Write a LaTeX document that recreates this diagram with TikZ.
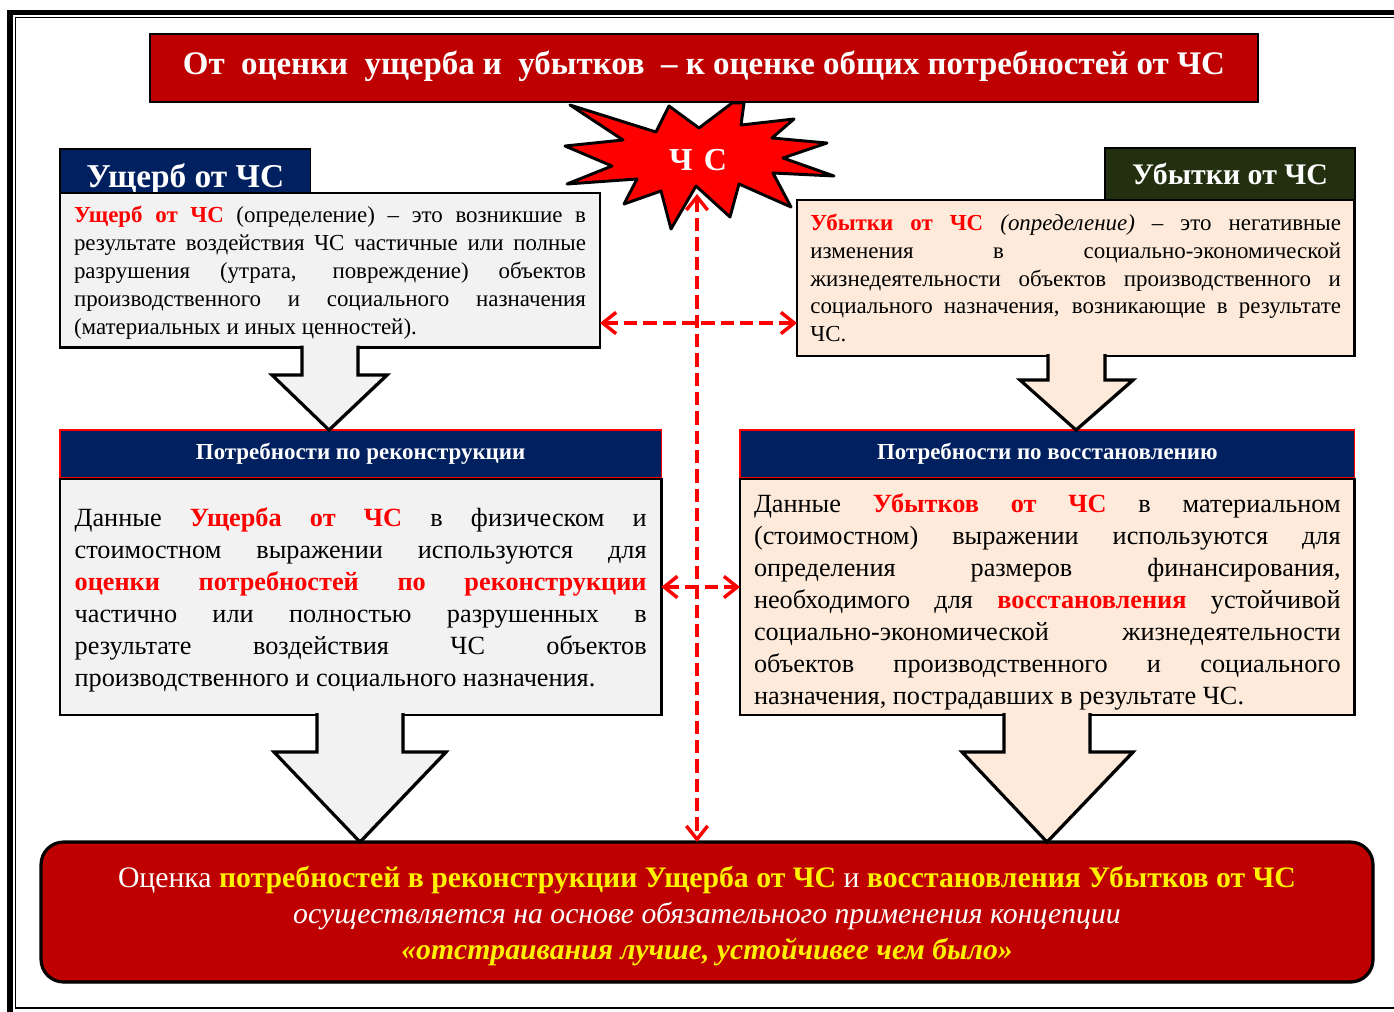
\documentclass[tikz,border=0pt]{standalone}
\usepackage{fontspec}
\setmainfont{Liberation Serif}
\usepackage{xcolor}
\usetikzlibrary{arrows.meta,shadows}

\definecolor{titlered}{HTML}{BE0000}
\definecolor{navyhead}{HTML}{002060}
\definecolor{greenhead}{HTML}{223010}
\definecolor{greybox}{HTML}{F2F2F2}
\definecolor{beigebox}{HTML}{FDEADA}
\definecolor{starred}{HTML}{FF0000}

\newcommand{\redb}[1]{\textcolor{red}{\textbf{#1}}}
\newcommand{\yelb}[1]{\textcolor{yellow}{\textbf{#1}}}

\begin{document}
\begin{tikzpicture}[
    x=0.75pt, y=-0.75pt,
    softshadow/.style={drop shadow={shadow xshift=1pt, shadow yshift=-1pt, opacity=0.35, fill=black}},
    headbox/.style={rectangle, draw=black, line width=0.8pt, anchor=north west, outer sep=0pt, inner sep=0pt, align=center, text=white},
    sectionhead/.style={rectangle, draw=red, fill=navyhead, line width=1pt, anchor=north west, outer sep=0pt, inner sep=0pt,
        minimum height=36pt, text=white, font=\fontsize{17.2}{20}\selectfont\bfseries},
    textbox/.style={rectangle, draw=black, line width=2.1pt, anchor=north west, outer sep=0pt, inner sep=0pt, align=justify, softshadow},
    blockarrow/.style={draw=black, line width=2.4pt, miter limit=10, softshadow},
    dashlink/.style={{Straight Barb[length=10pt,width=16pt,line width=2.6pt]}-{Straight Barb[length=10pt,width=16pt,line width=2.6pt]},
        red, line width=2.6pt, dash pattern=on 10pt off 4.5pt}
]

\useasboundingbox (0,0) rectangle (1394,1011);

% Double frame, running off the page on the right and at the bottom
\begin{scope}
\clip (0,0) rectangle (1394,1011);
\fill[white] (0,0) rectangle (1394,1011);
\draw[line width=4.2pt] (10,12.5) rectangle (1420,1030);
\draw[line width=0.9pt] (15.5,17.5) rectangle (1410,1008);
\end{scope}

% Star behind the title
\draw[fill=starred, line width=2.2pt, line join=round]
    (570,105) -- (656,132) -- (669,106) -- (699,128) -- (732,103) -- (744,103) -- (741,125)
    -- (794,119) -- (772,138) -- (827,143) -- (783,158) -- (834,176) -- (773,173) -- (791,207)
    -- (739,184) -- (730,217) -- (696,186) -- (671,229) -- (661,191) -- (624,204) -- (637,179)
    -- (567,184) -- (612,166) -- (565,146) -- (623,140) -- cycle;
\node (chslabel) [text=white, font=\fontsize{24}{28}\selectfont\bfseries, inner sep=0pt] at (698,160) {Ч\hspace{0.35em}С};
\coordinate (chstip) at (697,194);

% Title
\node (title) [headbox, fill=titlered, minimum width=831pt, minimum height=51pt, font=\fontsize{24.7}{30}\selectfont\bfseries] at (150,34)
    {\raisebox{-4.5pt}[0pt][0pt]{От\ \ оценки\ \ ущерба и\ \ убытков\ \ -- к оценке общих потребностей от ЧС}};

% Heads of the two definitions
\node (damagehead) [headbox, fill=navyhead, minimum width=188pt, minimum height=33pt, font=\fontsize{25}{30}\selectfont\bfseries] at (60,149)
    {\raisebox{-12.5pt}[0pt][0pt]{Ущерб от ЧС}};
\node (losshead) [headbox, fill=greenhead, minimum width=187.5pt, minimum height=39pt, font=\fontsize{22.4}{26}\selectfont\bfseries] at (1105,148)
    {Убытки от ЧС};

% Definitions
\node (damagedef) [textbox, fill=greybox, minimum width=405pt, minimum height=116pt, text width=384pt,
    font=\fontsize{17.2}{20.9}\selectfont] at (60,193)
    {\rule{0pt}{16pt}\redb{Ущерб от ЧС} (определение) -- это возникшие в\linebreak
     результате воздействия ЧС частичные или полные\linebreak
     разрушения (утрата, повреждение) объектов\linebreak
     производственного и социального назначения\linebreak
     (материальных и иных ценностей).};
\node (lossdef) [textbox, fill=beigebox, minimum width=418pt, minimum height=117pt, text width=398pt,
    font=\fontsize{17.2}{20.9}\selectfont] at (797,200)
    {\redb{Убытки от ЧС} \textit{(определение)} -- это негативные\linebreak
     изменения в социально-экономической\linebreak
     жизнедеятельности объектов производственного и\linebreak
     социального назначения, возникающие в результате\linebreak
     ЧС.};

% Needs
\node (rebuildhead) [sectionhead, minimum width=451pt] at (60,430) {\raisebox{1.5pt}{Потребности по реконструкции}};
\node (recoverhead) [sectionhead, minimum width=461pt] at (740,430) {\raisebox{1.5pt}{Потребности по восстановлению}};

\node (rebuildbox) [textbox, fill=greybox, minimum width=451pt, minimum height=177pt, text width=429pt,
    font=\fontsize{19.7}{24}\selectfont] at (60,479)
    {\rule{0pt}{19pt}Данные \redb{Ущерба от ЧС} в физическом и\linebreak
     стоимостном выражении используются для\linebreak
     \redb{оценки потребностей по реконструкции}\linebreak
     частично или полностью разрушенных в\linebreak
     результате воздействия ЧС объектов\linebreak
     производственного и социального назначения.};
\node (recoverbox) [textbox, fill=beigebox, minimum width=461pt, minimum height=177pt, text width=440pt,
    font=\fontsize{19.7}{24}\selectfont] at (740,479)
    {\rule{0pt}{21.5pt}Данные \redb{Убытков от ЧС} в материальном\linebreak
     (стоимостном) выражении используются для\linebreak
     определения размеров финансирования,\linebreak
     необходимого для \redb{восстановления} устойчивой\linebreak
     социально-экономической жизнедеятельности\linebreak
     объектов производственного и социального\linebreak
     назначения, пострадавших в результате ЧС.};

% Conclusion
\node (assess) [rectangle, rounded corners=17pt, draw=black, fill=titlered, line width=2.4pt, anchor=north west, outer sep=0pt, inner sep=0pt,
    minimum width=999pt, minimum height=105pt, align=center, text=white, softshadow,
    font=\fontsize{22.3}{27}\selectfont] at (41,842)
    {\rule{0pt}{22pt}Оценка \yelb{потребностей в реконструкции Ущерба от ЧС} и \yelb{восстановления Убытков от ЧС}\\
     \textit{осуществляется на основе обязательного применения концепции}\\
     \textcolor{yellow}{\textbf{\textit{«отстраивания лучше, устойчивее чем было»}}}};

% Block arrows between the boxes
\draw[blockarrow, fill=greybox] ([yshift=1.5pt]damagedef.south -| 302,0) -- (302,375) -- (272,375) -- (329,0 |- rebuildhead.north)
    -- (387,375) -- (358,375) -- ([yshift=1.5pt]damagedef.south -| 358,0);
\draw[blockarrow, fill=beigebox] ([yshift=1.5pt]lossdef.south -| 1048,0) -- (1048,380) -- (1020,380) -- (1076,0 |- recoverhead.north)
    -- (1133,380) -- (1105,380) -- ([yshift=1.5pt]lossdef.south -| 1105,0);
\draw[blockarrow, fill=greybox] ([yshift=1.5pt]rebuildbox.south -| 317,0) -- (317,752) -- (274,752) -- (360,0 |- assess.north)
    -- (446,752) -- (403,752) -- ([yshift=1.5pt]rebuildbox.south -| 403,0);
\draw[blockarrow, fill=beigebox] ([yshift=1.5pt]recoverbox.south -| 1004,0) -- (1004,752) -- (962,752) -- (1047,0 |- assess.north)
    -- (1133,752) -- (1090,752) -- ([yshift=1.5pt]recoverbox.south -| 1090,0);

% Dashed red links
\draw[dashlink] (chstip) -- (chstip |- assess.north);
\draw[dashlink] (damagedef.east |- 0,323) -- (lossdef.west |- 0,323);
\draw[dashlink] (rebuildbox.east |- 0,587) -- (recoverbox.west |- 0,587);

\end{tikzpicture}
\end{document}
